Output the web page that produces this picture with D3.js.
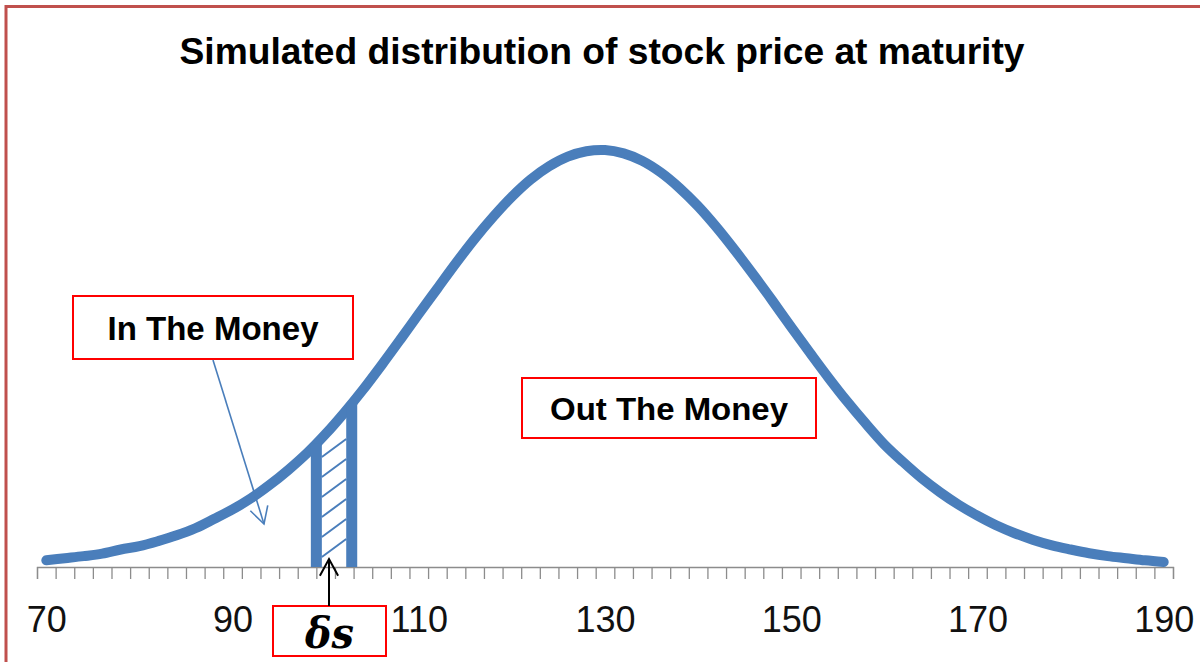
<!DOCTYPE html>
<html>
<head>
<meta charset="utf-8">
<script src="https://cdnjs.cloudflare.com/ajax/libs/d3/7.8.5/d3.min.js"></script>
<style>
  body { margin:0; background:#fff; }
  svg { display:block; }
</style>
</head>
<body>
<svg id="chart" width="1200" height="662"></svg>
<script>
// stock price categories (one every 2) and simulated frequency (peak = 100)
var prices = d3.range(70, 191, 2);
var freq = [1.6, 2.1, 2.6, 3.2, 4.2, 5.0, 6.2, 7.6, 9.3, 11.5,
            13.8, 16.5, 19.7, 23.3, 27.3, 31.9, 37.0, 42.5, 48.4, 54.5,
            60.7, 66.8, 72.9, 78.7, 84.0, 88.8, 92.9, 96.1, 98.4, 99.7,
            100.0, 99.2, 97.4, 94.6, 90.9, 86.5, 81.4, 75.8, 69.9, 63.8,
            57.5, 51.4, 45.4, 39.7, 34.4, 29.4, 25.2, 21.3, 17.9, 14.9,
            12.3, 10.0, 8.1, 6.5, 5.2, 4.2, 3.3, 2.6, 2.1, 1.6, 1.2];
var tickLabels = [70, 90, 110, 130, 150, 170, 190];
var deltaBounds = [99, 102.8];

var blue = "#4a7ebb";
var s = d3.select("#chart");

// price axis: 61 categories, labels at the category centres
var x = d3.scaleLinear().domain([69, 191]).range([37, 1173]);
var y = d3.scaleLinear().domain([0, 100]).range([567, 150]);

// frame
s.append("rect").attr("x", 6).attr("y", 6.5).attr("width", 1400).attr("height", 900)
  .attr("fill", "none").attr("stroke", "#c0504d").attr("stroke-width", 3);

// title
s.append("text").attr("x", 602).attr("y", 64).attr("text-anchor", "middle")
  .attr("font-family", "Liberation Sans, Arial, sans-serif").attr("font-weight", "bold")
  .attr("font-size", 36).attr("textLength", 845).attr("lengthAdjust", "spacingAndGlyphs")
  .text("Simulated distribution of stock price at maturity");

// tick marks at the category boundaries
var tickAxis = d3.axisBottom(x).tickValues(d3.range(69, 192, 2)).tickSize(12).tickSizeOuter(12).tickFormat("");
var gt = s.append("g").attr("transform", "translate(0," + y(0) + ")").call(tickAxis);
gt.selectAll("path, line").attr("stroke", "#8c8c8c").attr("stroke-width", 1.3);

var labelAxis = d3.axisBottom(x).tickValues(tickLabels).tickSize(0).tickPadding(39).tickFormat(d3.format("d"));
var gl = s.append("g").attr("transform", "translate(0," + y(0) + ")").call(labelAxis);
gl.select(".domain").remove();
gl.selectAll("text").attr("font-family", "Liberation Sans, Arial, sans-serif")
  .attr("font-size", 36).attr("fill", "#111");

// distribution curve
var line = d3.line()
  .x(function(d, i){ return x(prices[i]); })
  .y(function(d){ return y(d); })
  .curve(d3.curveCatmullRom.alpha(0.5));
s.append("path").datum(freq).attr("d", line)
  .attr("fill", "none").attr("stroke", blue).attr("stroke-width", 10)
  .attr("stroke-linecap", "round").attr("stroke-linejoin", "round");

// value of the curve at a price (linear between categories)
var freqAt = function(p){
  var i = Math.floor((p - 70) / 2);
  var t = (p - prices[i]) / 2;
  return freq[i] + (freq[i + 1] - freq[i]) * t;
};

// delta-S strip: two bars plus hatching
deltaBounds.forEach(function(p){
  s.append("rect").attr("x", x(p) - 5.5).attr("y", y(freqAt(p)))
    .attr("width", 11).attr("height", y(0) - y(freqAt(p)))
    .attr("fill", blue);
});
var xl = x(deltaBounds[0]) + 5.5, xr = x(deltaBounds[1]) - 5.5;
d3.range(6).forEach(function(i){
  var y1 = y(0) - 10 - 20 * i;
  s.append("line").attr("x1", xl).attr("y1", y1).attr("x2", xr).attr("y2", y1 - 18)
    .attr("stroke", blue).attr("stroke-width", 2);
});

// boxes
var box = function(x0, y0, w, h, label, size, tl, font, style){
  s.append("rect").attr("x", x0).attr("y", y0).attr("width", w).attr("height", h)
    .attr("fill", "#fff").attr("stroke", "#ff0000").attr("stroke-width", 2);
  var t = s.append("text").attr("x", x0 + w / 2).attr("text-anchor", "middle")
    .attr("font-family", font).attr("font-weight", "bold").attr("font-size", size)
    .attr("textLength", tl).attr("lengthAdjust", "spacingAndGlyphs").text(label);
  if(style) t.attr("font-style", style);
  return t;
};
var sans = "Liberation Sans, Arial, sans-serif";
box(73, 296, 280, 63, "In The Money", 33, 211, sans).attr("y", 340);
box(522, 378, 294, 60, "Out The Money", 31, 238, sans).attr("y", 420);
box(273, 606, 113, 50, "\u03b4s", 42, 49, "DejaVu Serif, serif", "italic").attr("y", 648);

// arrows
var arrow = function(x1, y1, x2, y2, color, w, len){
  var a = Math.atan2(y2 - y1, x2 - x1), sp = 0.5;
  s.append("line").attr("x1", x1).attr("y1", y1).attr("x2", x2).attr("y2", y2)
    .attr("stroke", color).attr("stroke-width", w);
  s.append("path")
    .attr("d", "M" + (x2 - len * Math.cos(a - sp)) + "," + (y2 - len * Math.sin(a - sp)) +
      "L" + x2 + "," + y2 +
      "L" + (x2 - len * Math.cos(a + sp)) + "," + (y2 - len * Math.sin(a + sp)))
    .attr("fill", "none").attr("stroke", color).attr("stroke-width", w);
};
arrow(213, 360, 264, 524, blue, 1.6, 19);
arrow(329, 606, 329, 559, "#000", 2, 19);
</script>
</body>
</html>
